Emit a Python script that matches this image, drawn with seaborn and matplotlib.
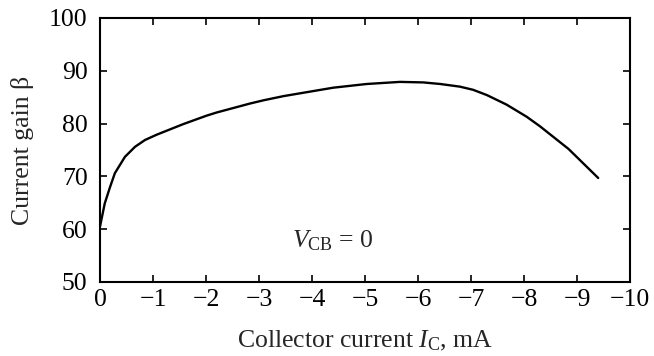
import numpy as np
import pandas as pd
import matplotlib
matplotlib.use("Agg")
import matplotlib.pyplot as plt
import seaborn as sns

# Collector current (mA) and current gain beta, common-base, V_CB = 0
collector_current = [0.0, -0.09, -0.19, -0.28, -0.47, -0.66, -0.85, -1.07, -1.42,
                     -1.57, -2.01, -2.20, -2.83, -3.08, -3.46, -3.93, -4.40,
                     -5.03, -5.66, -6.10, -6.42, -6.79, -7.04, -7.30, -7.67,
                     -8.05, -8.30, -8.84, -9.40]
current_gain = [60.5, 64.9, 68.0, 70.6, 73.7, 75.6, 76.9, 77.9, 79.3,
                79.9, 81.5, 82.1, 83.8, 84.4, 85.2, 86.0, 86.8,
                87.5, 87.9, 87.8, 87.5, 87.0, 86.4, 85.4, 83.6,
                81.3, 79.5, 75.2, 69.7]

x_ticks = [0, -1, -2, -3, -4, -5, -6, -7, -8, -9, -10]
y_ticks = [50, 60, 70, 80, 90, 100]

sns.set_style("ticks")
plt.rcParams["font.family"] = ["Liberation Serif", "DejaVu Serif"]
plt.rcParams["mathtext.fontset"] = "custom"
plt.rcParams["mathtext.rm"] = "Liberation Serif"
plt.rcParams["mathtext.it"] = "Liberation Serif:italic"

df = pd.DataFrame({"Ic": collector_current, "beta": current_gain})

fig = plt.figure(figsize=(6.54, 3.56), dpi=100)
ax = fig.add_axes([100 / 654, 1 - 282 / 356, 530 / 654, 264 / 356])

sns.lineplot(data=df, x="Ic", y="beta", ax=ax, color="black", linewidth=1.7,
             sort=False)
ax.lines[0].set_solid_joinstyle("round")

ax.set_xlim(0, -10)
ax.set_ylim(50, 100)
ax.set_xticks(x_ticks)
ax.set_xticklabels([str(t).replace("-", "\u2212") for t in x_ticks])
ax.set_yticks(y_ticks)
ax.set_yticklabels([str(t) for t in y_ticks])

ax.tick_params(direction="in", length=5, width=1.2, top=True, right=True,
               labelsize=18.5, colors="black")
ax.tick_params(axis="y", pad=9)
ax.tick_params(axis="x", pad=5)
for side in ax.spines.values():
    side.set_linewidth(1.5)
    side.set_color("black")

ax.set_xlabel(r"Collector current $I_{\mathrm{C}}$, mA", fontsize=18.5, labelpad=13)
ax.set_ylabel("Current gain β", fontsize=18.5, labelpad=11)

ax.text(-3.62, 57.9, r"$V_{\mathrm{CB}}$ = 0", fontsize=18.5, ha="left", va="center")

fig.savefig("out.png", dpi=100)
